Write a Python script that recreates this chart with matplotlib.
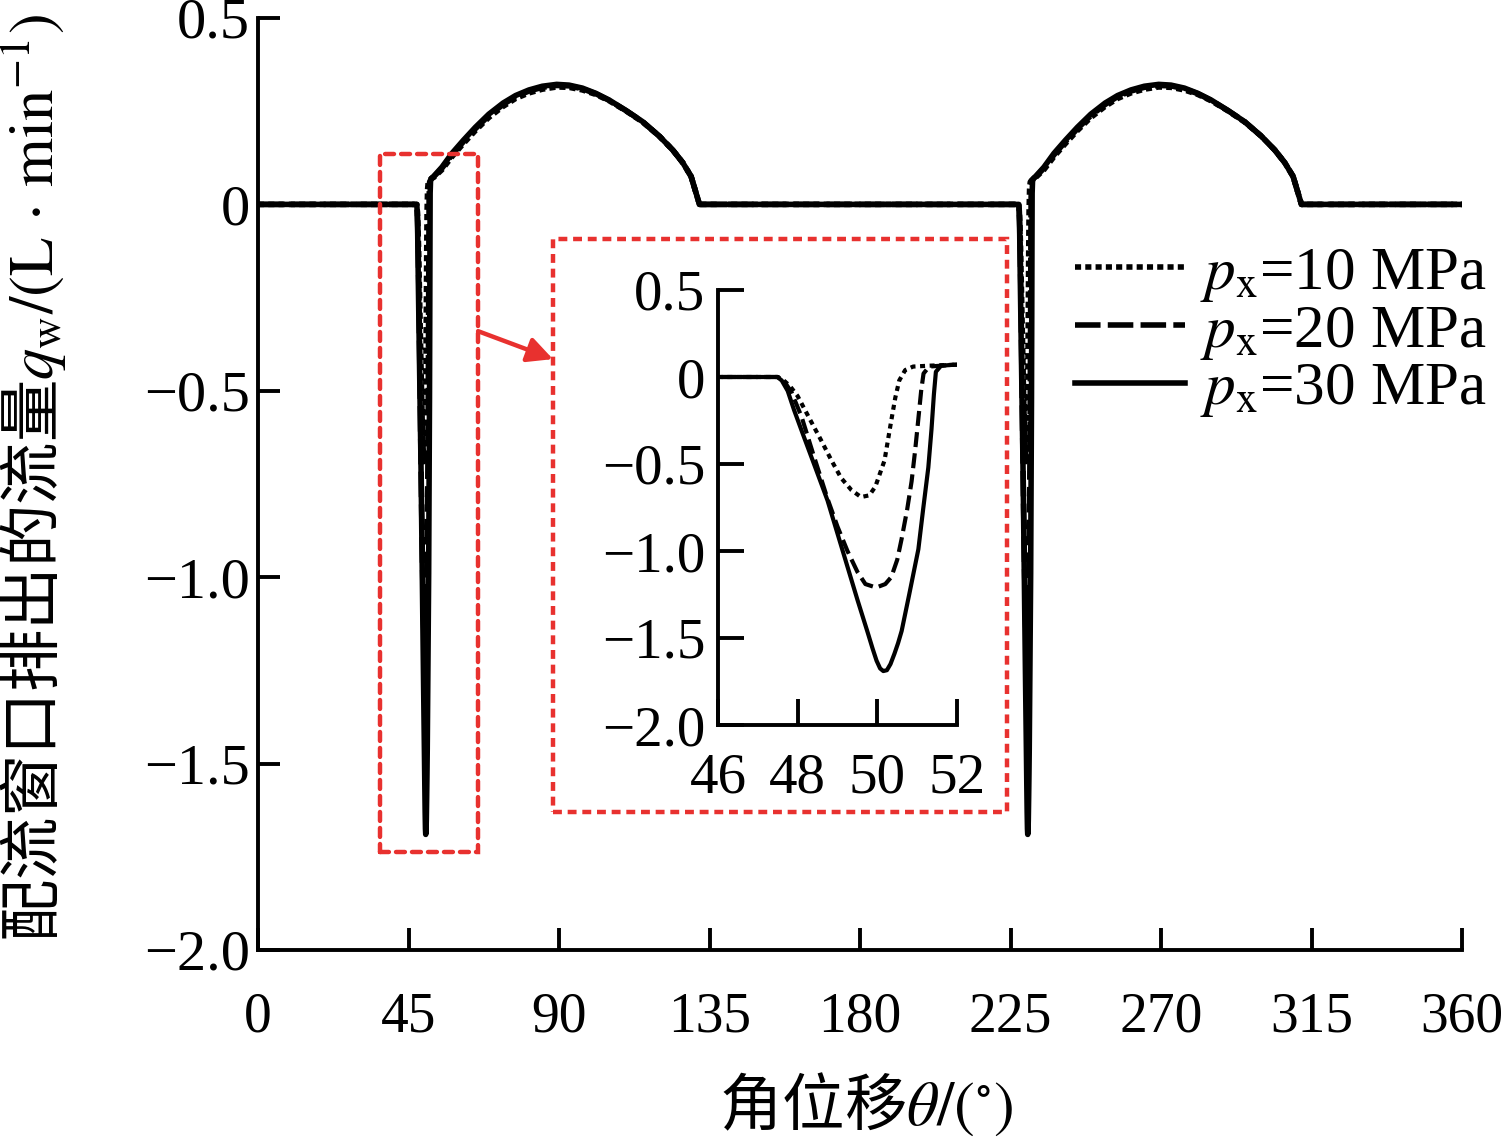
import matplotlib
matplotlib.use("Agg")
import matplotlib.pyplot as plt
from matplotlib.patches import Rectangle

plt.rcParams['font.family'] = ['Liberation Serif', 'Noto Sans CJK SC', 'DejaVu Sans']
plt.rcParams['mathtext.fontset'] = 'stix'
plt.rcParams['axes.unicode_minus'] = True

# ---------------- data (one cycle) ----------------
# valley region (port opening), shown in the inset
valley_theta_10 = [46.0, 47.5, 47.65, 47.8, 48.0, 48.3, 48.58, 48.85, 49.09, 49.35, 49.59, 49.8,
                   49.95, 50.18, 50.35, 50.45, 50.55, 50.7, 50.9, 51.3, 51.9]
valley_q_10 = [0.0, 0.0, -0.02, -0.05, -0.11, -0.24, -0.36, -0.48, -0.58, -0.65, -0.69, -0.68,
               -0.63, -0.48, -0.25, -0.12, -0.02, 0.04, 0.06, 0.065, 0.07]

valley_theta_20 = [46.0, 47.5, 47.65, 47.85, 48.1, 48.4, 48.75, 49.0, 49.25, 49.5, 49.7, 49.97,
                   50.2, 50.35, 50.5, 50.61, 50.75, 50.86, 50.95, 51.03, 51.1, 51.16, 51.3, 51.9]
valley_q_20 = [0.0, 0.0, -0.02, -0.09, -0.23, -0.45, -0.70, -0.86, -1.00, -1.12, -1.19, -1.21,
               -1.19, -1.15, -1.05, -0.93, -0.76, -0.60, -0.42, -0.24, -0.08, 0.02, 0.06, 0.07]

valley_theta_30 = [46.0, 47.49, 47.6, 47.75, 47.91, 48.15, 48.41, 48.75, 49.0, 49.25, 49.5, 49.76,
                   49.88, 49.98, 50.07, 50.15, 50.24, 50.33, 50.43, 50.52, 50.61, 50.8, 51.03,
                   51.15, 51.28, 51.36, 51.42, 51.47, 51.6, 51.9]
valley_q_30 = [0.0, 0.0, -0.02, -0.08, -0.19, -0.34, -0.50, -0.71, -0.90, -1.09, -1.28, -1.47,
               -1.56, -1.63, -1.675, -1.69, -1.685, -1.65, -1.59, -1.53, -1.46, -1.25, -0.99,
               -0.76, -0.52, -0.30, -0.10, 0.03, 0.065, 0.07]

# delivery arc after the valley
arc_theta = [52.5, 55, 58, 61.4, 65, 69, 73.3, 77, 81, 85, 89.3, 93, 97, 101, 105, 110, 115,
             120, 124, 127, 129.5, 131, 132]
arc_q_10 = [0.072, 0.093, 0.128, 0.163, 0.198, 0.233, 0.263, 0.284, 0.299, 0.309, 0.315, 0.314,
            0.307, 0.295, 0.278, 0.251, 0.221, 0.183, 0.146, 0.112, 0.075, 0.03, 0.0]
arc_q_20 = [0.074, 0.097, 0.133, 0.168, 0.203, 0.238, 0.268, 0.289, 0.304, 0.314, 0.319, 0.318,
            0.310, 0.297, 0.279, 0.252, 0.222, 0.183, 0.146, 0.112, 0.075, 0.03, 0.0]
arc_q_30 = [0.075, 0.100, 0.137, 0.172, 0.207, 0.242, 0.272, 0.292, 0.307, 0.317, 0.322, 0.320,
            0.312, 0.298, 0.280, 0.252, 0.222, 0.183, 0.146, 0.112, 0.075, 0.03, 0.0]

period = 180.0
labels = ['$p_{\\mathrm{x}}$=10 MPa', '$p_{\\mathrm{x}}$=20 MPa', '$p_{\\mathrm{x}}$=30 MPa']

x_ticks = [0, 45, 90, 135, 180, 225, 270, 315, 360]
y_ticks = [0.5, 0, -0.5, -1.0, -1.5, -2.0]
y_ticklabels = ['0.5', '0', '\u22120.5', '\u22121.0', '\u22121.5', '\u22122.0']
inset_x_ticks = [46, 48, 50, 52]


def full_cycle(vt, vq, at, aq):
    th = [0.0] + vt + at + [t + period for t in vt] + [t + period for t in at] + [360.0]
    q = [0.0] + vq + aq + vq + aq + [0.0]
    return th, q


series = [
    full_cycle(valley_theta_10, valley_q_10, arc_theta, arc_q_10),
    full_cycle(valley_theta_20, valley_q_20, arc_theta, arc_q_20),
    full_cycle(valley_theta_30, valley_q_30, arc_theta, arc_q_30),
]
styles = [(0, (1.1, 0.75)), (0, (4.6, 1.3)), '-']

W, H = 1501, 1144
fig = plt.figure(figsize=(W / 100, H / 100), dpi=100)
ax = fig.add_axes([258 / W, 1 - 950 / H, (1462 - 258) / W, (950 - 18) / H])

handles = []
for (th, q), ls, lab in zip(series, styles, labels):
    ln, = ax.plot(th, q, color='black', lw=4.0, ls=ls, label=lab,
                  solid_joinstyle='round', dash_capstyle='butt')
    handles.append(ln)

ax.set_xlim(0, 360)
ax.set_ylim(-2.0, 0.5)
for s in ['top', 'right']:
    ax.spines[s].set_visible(False)
for s in ['left', 'bottom']:
    ax.spines[s].set_linewidth(2.8)
ax.set_xticks(x_ticks)
ax.set_xticklabels([str(v) for v in x_ticks])
ax.set_yticks(y_ticks)
ax.set_yticklabels(y_ticklabels)
ax.tick_params(axis='both', direction='in', length=16, width=2.8)
ax.tick_params(axis='x', pad=30, labelsize=40)
ax.tick_params(axis='y', pad=6, labelsize=42)

ax.set_xlabel('角位移$\\theta/(^{\\circ})$', fontsize=45, family=['Noto Sans CJK SC'])
ax.xaxis.set_label_coords(0.505, -0.13)
ax.set_ylabel('配流窗口排出的流量$q_{\\mathrm{w}}/(\\mathrm{L}\\,\\cdot\\,\\mathrm{min}^{-1})$',
              fontsize=45, family=['Noto Sans CJK SC'])
ax.yaxis.set_label_coords(-0.158, 0.506)

red = '#E8312F'
ax.add_patch(Rectangle((36.5, -1.738), 29.3, 1.872, fill=False, ec=red, lw=3.2,
                       ls=(0, (2.0, 1.6)), capstyle='round', clip_on=False, zorder=5))
ax.add_patch(Rectangle((88.2, -1.631), 135.8, 1.537, fill=False, ec=red, lw=3.2,
                       ls=(0, (2.0, 1.3)), capstyle='butt', clip_on=False, zorder=5))
ax.annotate('', xy=(88.2, -0.415), xytext=(65.8, -0.34),
            arrowprops=dict(arrowstyle='-|>', color=red, lw=3.2, mutation_scale=38,
                            shrinkA=0, shrinkB=0), zorder=6)

leg = ax.legend(handles=handles, loc='upper right', bbox_to_anchor=(1487 / W, 1 - 246 / H),
                bbox_transform=fig.transFigure, frameon=False, fontsize=44,
                handlelength=1.8, handletextpad=0.25, labelspacing=0.0, borderpad=0.0,
                borderaxespad=0.0)

# ---------------- inset ----------------
axi = fig.add_axes([718 / W, 1 - 725 / H, (957 - 718) / W, (725 - 290) / H])
axi.patch.set_alpha(0)
inset_styles = [(0, (1.2, 1.1)), (0, (3.6, 1.5)), '-']
for (th, q), ls in zip(series, inset_styles):
    axi.plot(th, q, color='black', lw=3.0, ls=ls, solid_joinstyle='round')
axi.set_xlim(46, 52)
axi.set_ylim(-2.0, 0.5)
for s in ['top', 'right']:
    axi.spines[s].set_visible(False)
for s in ['left', 'bottom']:
    axi.spines[s].set_linewidth(2.8)
axi.set_xticks(inset_x_ticks)
axi.set_xticklabels([str(v) for v in inset_x_ticks])
axi.set_yticks(y_ticks)
axi.set_yticklabels(y_ticklabels)
axi.tick_params(axis='both', direction='in', length=19, width=2.8, labelsize=41)
axi.tick_params(axis='x', pad=20)
axi.tick_params(axis='y', pad=9)

fig.savefig('out.png', dpi=100)
